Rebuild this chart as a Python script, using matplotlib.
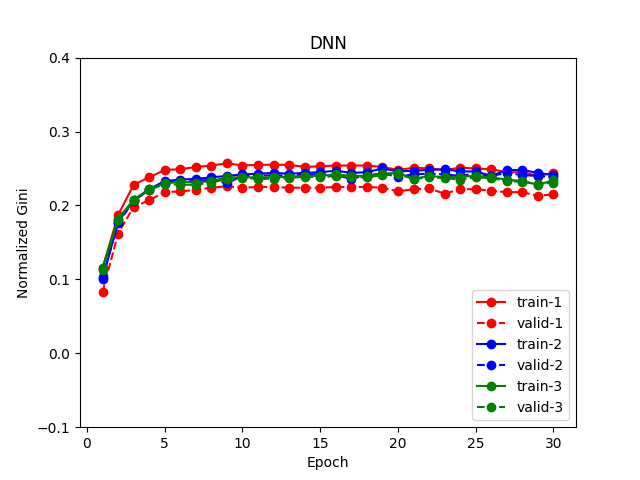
import matplotlib
matplotlib.use("Agg")
import matplotlib.pyplot as plt

epochs = list(range(1, 31))
train_1 = [0.115, 0.187, 0.228, 0.238, 0.248, 0.249, 0.252, 0.254, 0.257, 0.254,
           0.255, 0.255, 0.255, 0.252, 0.253, 0.254, 0.254, 0.254, 0.252, 0.248,
           0.251, 0.250, 0.248, 0.251, 0.250, 0.249, 0.245, 0.245, 0.240, 0.244]
valid_1 = [0.083, 0.162, 0.198, 0.207, 0.218, 0.219, 0.221, 0.224, 0.226, 0.224,
           0.225, 0.225, 0.224, 0.224, 0.224, 0.225, 0.225, 0.225, 0.224, 0.219,
           0.222, 0.223, 0.216, 0.222, 0.222, 0.220, 0.218, 0.218, 0.213, 0.215]
train_2 = [0.100, 0.178, 0.207, 0.222, 0.233, 0.235, 0.236, 0.238, 0.240, 0.242,
           0.243, 0.244, 0.243, 0.244, 0.245, 0.247, 0.244, 0.245, 0.250, 0.246,
           0.247, 0.248, 0.249, 0.246, 0.246, 0.240, 0.248, 0.248, 0.244, 0.241]
valid_2 = [0.103, 0.176, 0.206, 0.221, 0.231, 0.232, 0.233, 0.235, 0.230, 0.240,
           0.240, 0.241, 0.240, 0.242, 0.242, 0.241, 0.236, 0.241, 0.243, 0.239,
           0.242, 0.243, 0.242, 0.240, 0.243, 0.240, 0.244, 0.241, 0.240, 0.238]
train_3 = [0.116, 0.182, 0.208, 0.222, 0.230, 0.232, 0.231, 0.233, 0.238, 0.238,
           0.238, 0.238, 0.239, 0.240, 0.240, 0.242, 0.240, 0.240, 0.243, 0.244,
           0.236, 0.240, 0.238, 0.239, 0.240, 0.238, 0.235, 0.233, 0.228, 0.234]
valid_3 = [0.113, 0.180, 0.207, 0.221, 0.229, 0.228, 0.228, 0.231, 0.236, 0.237,
           0.236, 0.236, 0.237, 0.239, 0.238, 0.240, 0.238, 0.238, 0.241, 0.242,
           0.236, 0.238, 0.237, 0.235, 0.238, 0.237, 0.233, 0.232, 0.229, 0.231]

fig, ax = plt.subplots(figsize=(6.4, 4.8), dpi=100)
ax.plot(epochs, train_1, 'ro-', label='train-1')
ax.plot(epochs, valid_1, 'ro--', label='valid-1')
ax.plot(epochs, train_2, 'bo-', label='train-2')
ax.plot(epochs, valid_2, 'bo--', label='valid-2')
ax.plot(epochs, train_3, 'go-', label='train-3')
ax.plot(epochs, valid_3, 'go--', label='valid-3')
ax.set_ylim(-0.1, 0.4)
ax.set_title('DNN')
ax.set_xlabel('Epoch')
ax.set_ylabel('Normalized Gini')
ax.legend(loc='lower right')
fig.savefig('out.png')
